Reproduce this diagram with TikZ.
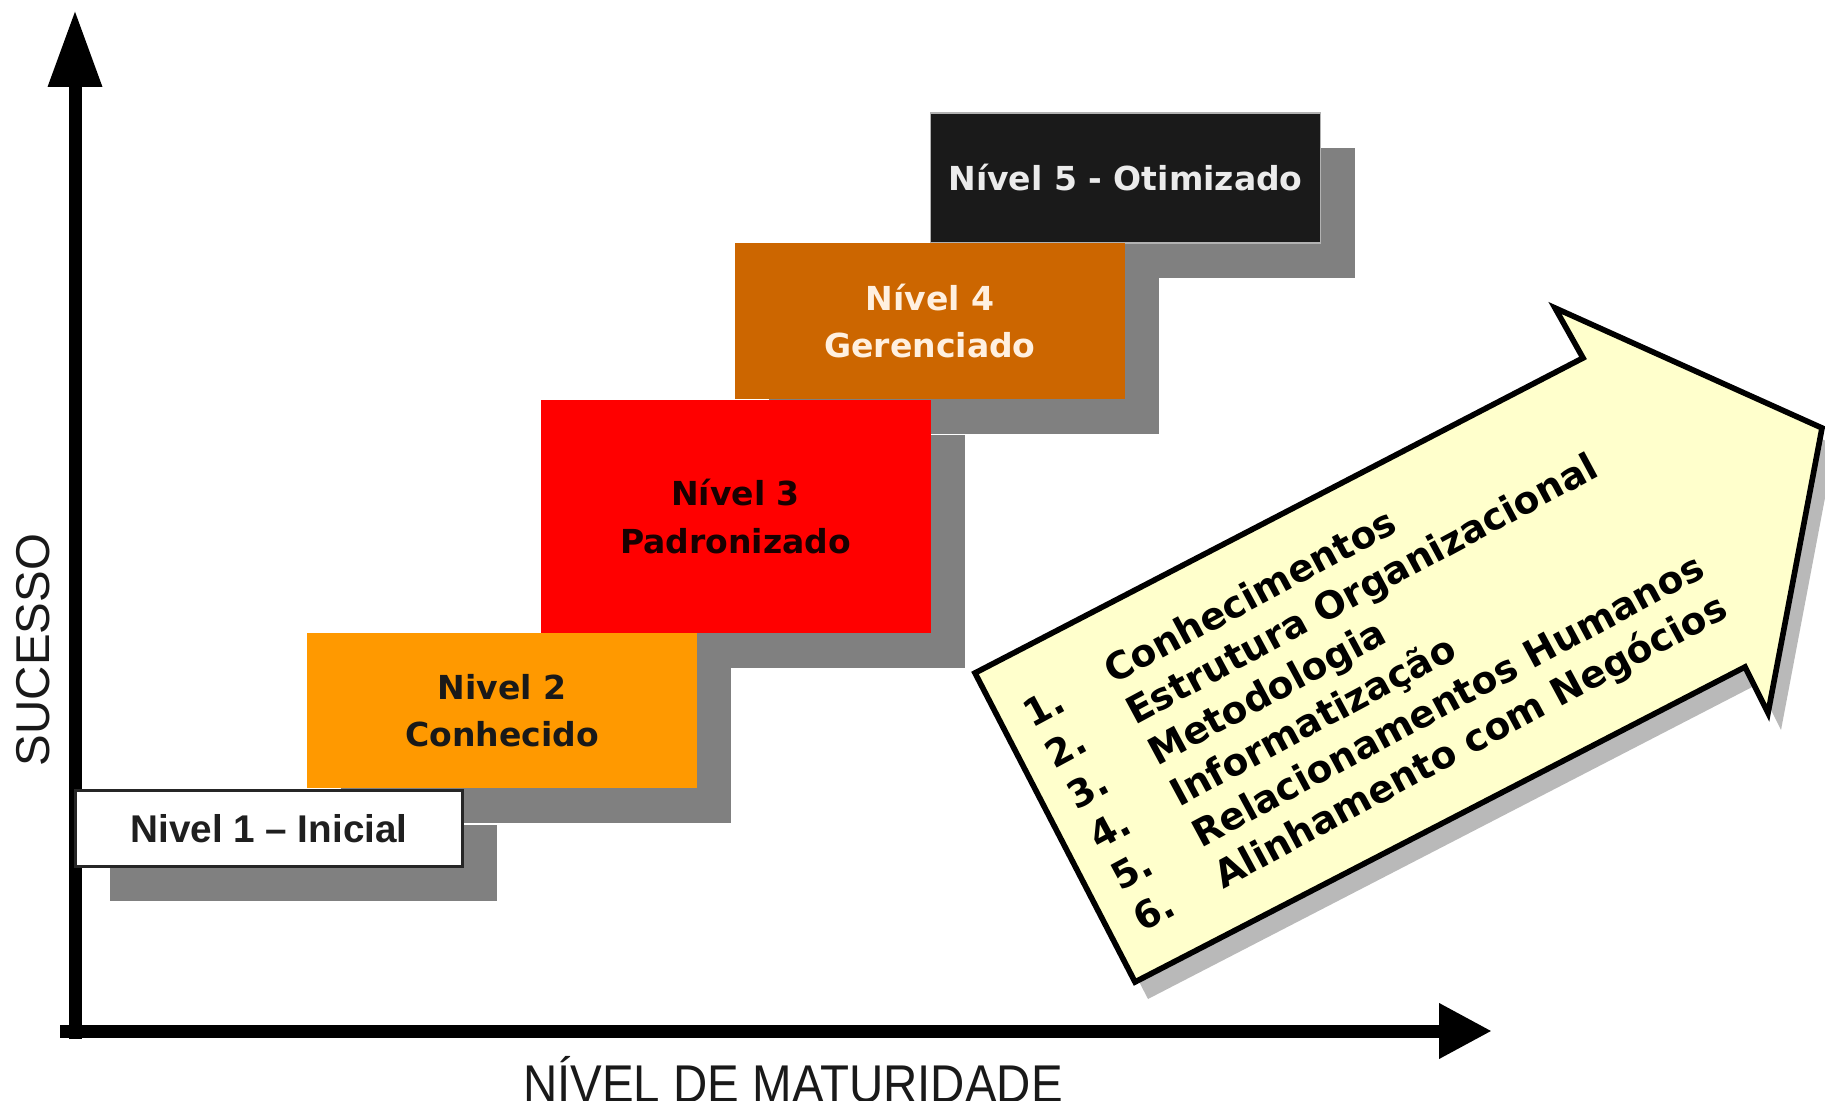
\documentclass[tikz,border=0pt]{standalone}
\usepackage{fontspec}
\setmainfont{Liberation Sans}
\newfontfamily\dejavu{DejaVu Sans}
\usepackage{tikz}
\usetikzlibrary{arrows.meta}
\usetikzlibrary{shadows}
\definecolor{sombra}{HTML}{808080}
\definecolor{preto}{HTML}{1A1A1A}
\definecolor{laranjaescuro}{HTML}{CC6600}
\definecolor{vermelho}{HTML}{FF0000}
\definecolor{laranja}{HTML}{FF9900}
\definecolor{creme}{HTML}{FFFFCC}
\definecolor{textocreme}{HTML}{FFF0E0}
\tikzset{eixo/.style = {line width = 0.13cm, black}}
\tikzset{rotulo/.style = {font = \fontsize{13.5}{16}\selectfont, text = black!90, inner sep = 0}}
\tikzset{nivel/.style = {minimum width = 3.9cm, inner sep = 0, align = center,
    font = \dejavu\bfseries\fontsize{9.4}{13.4}\selectfont,
    drop shadow = {shadow xshift = 0.34cm, shadow yshift = -0.35cm, fill = sombra, opacity = 1}}}
\tikzset{seta/.style = {draw = black, line width = 1.6pt, line join = miter, fill = creme,
    drop shadow = {shadow xshift = 0.13cm, shadow yshift = -0.17cm, fill = gray!55, opacity = 1}}}
\tikzset{lista/.style = {font = \dejavu\bfseries\fontsize{10.7}{13.2}\selectfont, inner sep = 0}}

\begin{document}
\begin{tikzpicture}
  \useasboundingbox (0, 0) rectangle (18.25, 11);

  \coordinate (origem) at (0.75, 0.69);
  \coordinate (topo) at (0.75, 10.9);
  \coordinate (fim) at (14.92, 0.69);
  \draw [eixo, -{Triangle[length = 7.7mm, width = 5.1mm]}] ([yshift = -0.08cm]origem) -- (topo);
  \draw [eixo, -{Triangle[length = 5.3mm, width = 5.2mm]}] ([xshift = -0.15cm]origem) -- (fim);

  \node [rotulo, rotate = 90] (sucesso) at (0.33, 4.5) {SUCESSO};
  \node [rotulo, anchor = base, yscale = 1.12] (maturidade) at (7.93, -0.02) {NÍVEL DE MATURIDADE};

  \node [nivel, fill = preto, draw = gray!60, line width = 0.4pt, text = black!8, minimum height = 1.30cm] (n5) at (11.255, 9.22) {Nível 5 - Otimizado};
  \node [nivel, fill = laranjaescuro, text = textocreme, minimum height = 1.56cm] (n4) at (9.30, 7.79) {Nível 4\\Gerenciado};
  \node [nivel, fill = vermelho, text = black!90!red, minimum height = 2.33cm] (n3) at (7.355, 5.835) {Nível 3\\Padronizado};
  \node [nivel, fill = laranja, text = black!90, minimum height = 1.55cm] (n2) at (5.02, 3.895) {Nivel 2\\Conhecido};
  \node [nivel, fill = white, draw = black!85, line width = 0.7pt, text = black!88, minimum width = 3.87cm, minimum height = 0.76cm,
    font = \bfseries\fontsize{11}{13}\selectfont] (n1) at (2.69, 2.715) {Nivel 1 – Inicial};

  \coordinate (s1) at (9.75, 4.27);
  \coordinate (s2) at (15.83, 7.42);
  \coordinate (s3) at (15.55, 7.92);
  \coordinate (s4) at (18.22, 6.72);
  \coordinate (s5) at (17.68, 3.87);
  \coordinate (s6) at (17.45, 4.33);
  \coordinate (s7) at (11.35, 1.18);
  \draw [seta] (s1) -- (s2) -- (s3) -- (s4) -- (s5) -- (s6) -- (s7) -- cycle;

  \node [lista, anchor = base west, rotate = 28.3] (itens) at (10.315, 3.712) {%
    \begin{tabular}[t]{@{}l@{\hspace{1.37em}}l@{}}
      1. & Conhecimentos\\
      2. & Estrutura Organizacional\\
      3. & Metodologia\\
      4. & Informatização\\
      5. & Relacionamentos Humanos\\
      6. & Alinhamento com Negócios
    \end{tabular}};
\end{tikzpicture}
\end{document}
